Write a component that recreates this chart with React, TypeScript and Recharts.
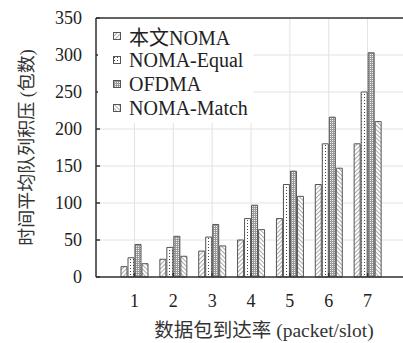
import {
  BarChart,
  Bar,
  XAxis,
  YAxis,
  CartesianGrid,
  Legend,
  ReferenceLine,
} from 'recharts';

const rates = ['1', '2', '3', '4', '5', '6', '7'];
const proposedNoma = [14, 24, 35, 50, 79, 125, 180];
const nomaEqual = [26, 40, 54, 79, 125, 180, 250];
const ofdma = [44, 55, 71, 97, 143, 216, 303];
const nomaMatch = [18, 28, 42, 64, 109, 147, 210];
const yTicks = [0, 50, 100, 150, 200, 250, 300, 350];

const seriesNames = ['本文NOMA', 'NOMA-Equal', 'OFDMA', 'NOMA-Match'];
const seriesKeys = ['proposed', 'equal', 'ofdma', 'match'];

const data = rates.map((rate, i) => ({
  rate,
  proposed: proposedNoma[i],
  equal: nomaEqual[i],
  ofdma: ofdma[i],
  match: nomaMatch[i],
}));

const font = '"Liberation Serif", "Noto Sans CJK SC", serif';
const ink = '#222';
const barStroke = '#555';

// hatch fills shared by the bars and the legend swatches
const Patterns = () => (
  <svg width={0} height={0} style={{ position: 'absolute' }}>
    <defs>
      <pattern id="fill-proposed" width={3} height={3} patternUnits="userSpaceOnUse" patternTransform="rotate(45)">
        <rect width={3} height={3} fill="#fff" />
        <line x1={0} y1={0} x2={0} y2={3} stroke="#555" strokeWidth={1} />
      </pattern>
      <pattern id="fill-equal" width={3} height={3} patternUnits="userSpaceOnUse">
        <rect width={3} height={3} fill="#fff" />
        <rect x={1} y={1} width={1} height={1} fill="#444" />
      </pattern>
      <pattern id="fill-ofdma" width={2} height={2} patternUnits="userSpaceOnUse">
        <rect width={2} height={2} fill="#9a9a9a" />
        <rect x={0} y={0} width={1} height={1} fill="#f2f2f2" />
      </pattern>
      <pattern id="fill-match" width={3} height={3} patternUnits="userSpaceOnUse" patternTransform="rotate(-45)">
        <rect width={3} height={3} fill="#fff" />
        <line x1={0} y1={0} x2={0} y2={3} stroke="#555" strokeWidth={1} />
      </pattern>
    </defs>
  </svg>
);

const renderLegend = () => (
  <div
    style={{
      background: '#fff',
      width: 155,
      height: 104,
      paddingTop: 5,
      boxSizing: 'border-box',
      fontFamily: font,
      fontSize: 20,
      color: ink,
    }}
  >
    {seriesNames.map((name, i) => (
      <div key={name} style={{ display: 'flex', alignItems: 'center', height: 24, paddingLeft: 15 }}>
        <svg width={8} height={8} style={{ flex: 'none' }}>
          <rect x={0.5} y={0.5} width={7} height={7} fill={`url(#fill-${seriesKeys[i]})`} stroke={barStroke} />
        </svg>
        <span style={{ marginLeft: 8, whiteSpace: 'nowrap' }}>{name}</span>
      </div>
    ))}
  </div>
);

export default function App() {
  return (
    <div style={{ position: 'absolute', left: 0, top: 0, width: 403, height: 343, overflow: 'hidden', background: '#fff' }}>
      <Patterns />
      <BarChart
        width={420}
        height={343}
        data={data}
        margin={{ top: 18, right: 14, left: 0, bottom: 0 }}
        barSize={6}
        barGap={1}
      >
        <CartesianGrid stroke="#e2e2e2" strokeWidth={1} />
        <XAxis
          dataKey="rate"
          height={66}
          padding={{ left: 19, right: 19 }}
          axisLine={{ stroke: '#333', strokeWidth: 1.5 }}
          tickLine={{ stroke: '#333', strokeWidth: 1.5 }}
          tickSize={-4}
          tickMargin={21}
          tick={{ fill: ink, fontSize: 18, fontFamily: font }}
          label={{
            value: '数据包到达率 (packet/slot)',
            position: 'insideBottom',
            offset: 6,
            dx: 13,
            fill: '#333',
            fontSize: 19.5,
            fontFamily: font,
          }}
        />
        <YAxis
          width={96}
          domain={[0, 350]}
          ticks={yTicks}
          interval={0}
          axisLine={{ stroke: '#333', strokeWidth: 1.5 }}
          tickLine={{ stroke: '#333', strokeWidth: 1.5 }}
          tickSize={-4}
          tickMargin={18}
          tick={{ fill: ink, fontSize: 18, fontFamily: font }}
          label={{
            value: '时间平均队列积压 (包数)',
            angle: -90,
            position: 'insideLeft',
            offset: 27,
            fill: '#333',
            fontSize: 18,
            fontFamily: font,
            style: { textAnchor: 'middle' },
          }}
        />
        <ReferenceLine y={350} stroke="#333" strokeWidth={1.5} />
        <Legend
          layout="vertical"
          align="center"
          verticalAlign="middle"
          wrapperStyle={{ left: 98, top: 19, width: 155 }}
          content={renderLegend}
        />
        {seriesKeys.map((key, i) => (
          <Bar
            key={key}
            dataKey={key}
            name={seriesNames[i]}
            fill={`url(#fill-${key})`}
            stroke={barStroke}
            strokeWidth={1}
            isAnimationActive={false}
          />
        ))}
      </BarChart>
    </div>
  );
}
